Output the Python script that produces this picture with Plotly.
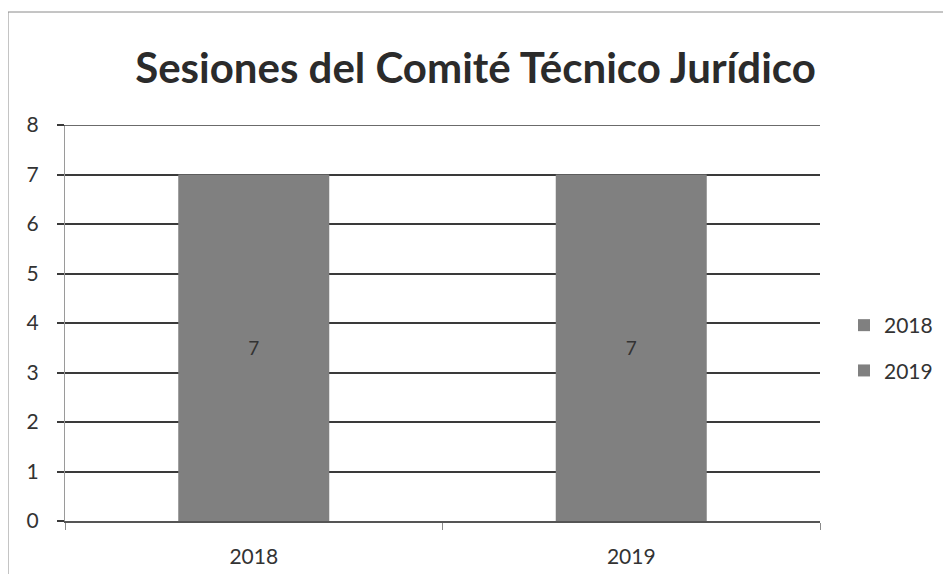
import plotly.graph_objects as go

years = ['2018', '2019']
sessions = [7, 7]

TITLE = 'Sesiones del Comité Técnico Jurídico'
BAR_COLOR = '#808080'
FONT = 'Lato'

# page body has an 8px margin on every side; keep the page inside the window
OFF = 8
W, H = 951 - 2 * OFF, 582 - 2 * OFF
L, T = 65 - OFF, 125 - OFF
R = W - L - (820 - 65)
B = H - T - (521 - 125)


def px_to_paper_x(px):
    return (px - OFF - L) / (W - L - R)


def px_to_paper_y(py):
    return (H - B - (py - OFF)) / (H - T - B)


fig = go.Figure()

for yr, val in zip(years, sessions):
    fig.add_trace(
        go.Bar(
            x=[yr],
            y=[val],
            name=yr,
            legendgroup=yr,
            width=0.4,
            marker={'color': BAR_COLOR, 'line': {'width': 0}},
            text=[val],
            textposition='inside',
            insidetextanchor='middle',
            textfont={'color': '#333333', 'size': 19, 'family': FONT},
        )
    )

fig.update_layout(
    width=W,
    height=H,
    barmode='overlay',
    paper_bgcolor='white',
    plot_bgcolor='white',
    margin={'l': L, 'r': R, 't': T, 'b': B, 'autoexpand': False},
    font={'family': FONT, 'color': '#333333', 'size': 21},
    title={
        'text': TITLE,
        'x': 0.5,
        'xanchor': 'center',
        'y': 1 - (68 - OFF) / H,
        'yanchor': 'middle',
        'font': {'family': FONT, 'size': 42, 'color': '#2b2b2b', 'weight': 'bold'},
    },
    legend={
        'x': px_to_paper_x(844),
        'y': px_to_paper_y(305),
        'xanchor': 'left',
        'yanchor': 'top',
        'font': {'size': 21},
        'tracegroupgap': 15,
        'itemwidth': 30,
    },
    shapes=[
        {
            'type': 'rect',
            'xref': 'paper',
            'yref': 'paper',
            'x0': px_to_paper_x(8),
            'x1': px_to_paper_x(990),
            'y0': px_to_paper_y(620),
            'y1': px_to_paper_y(12),
            'line': {'color': '#8a8a8a', 'width': 1},
            'layer': 'below',
        },
        {
            'type': 'line',
            'xref': 'paper',
            'yref': 'y',
            'x0': px_to_paper_x(58),
            'x1': 1,
            'y0': 8,
            'y1': 8,
            'line': {'color': '#3a3a3a', 'width': 1.5},
        },
    ],
)

fig.update_yaxes(
    range=[0, 8],
    dtick=1,
    showgrid=True,
    gridcolor='#3a3a3a',
    gridwidth=1.5,
    zeroline=False,
    showline=True,
    linecolor='#9a9a9a',
    ticks='outside',
    ticklen=7,
    tickcolor='#3a3a3a',
    tickwidth=1.5,
    ticklabelstandoff=14,
    tickfont={'size': 21},
)

fig.update_xaxes(
    type='category',
    showline=True,
    linecolor='#555555',
    linewidth=1.5,
    ticks='outside',
    ticklen=7,
    tickcolor='#8a8a8a',
    tickson='boundaries',
    ticklabelstandoff=16,
    tickfont={'size': 21},
)

fig.write_html('out.html')
